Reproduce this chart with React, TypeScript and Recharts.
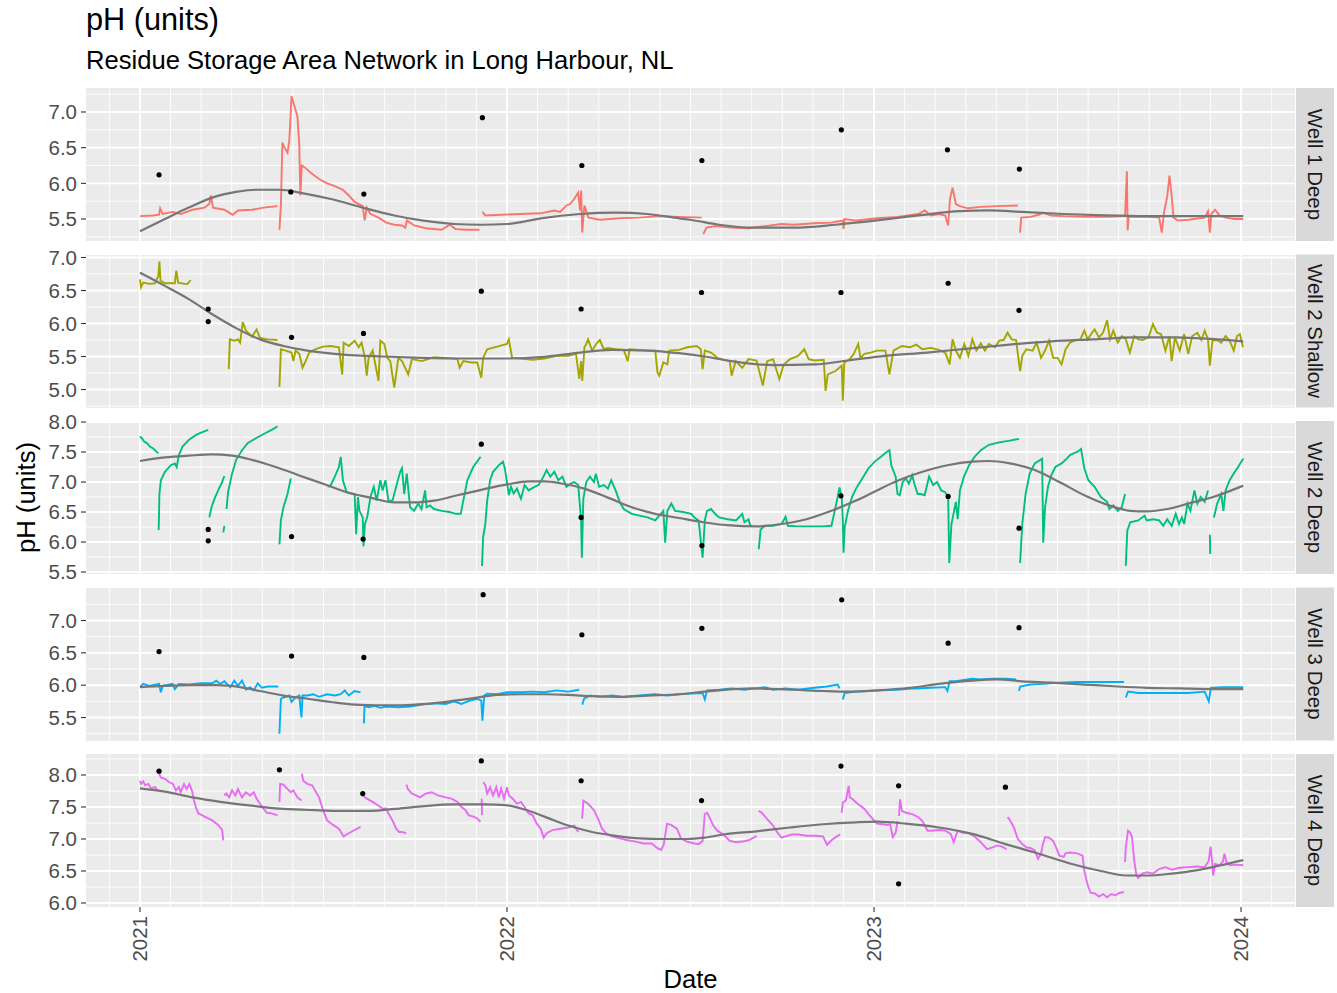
import React from "react";
import { ComposedChart, Line, Scatter, XAxis, YAxis, CartesianGrid } from "recharts";

type Pt = [number, number];

// ---- data (time as decimal year, value as pH) ----
const yearTicks = [2021, 2022, 2023, 2024];
const wellNames = ["Well 1 Deep", "Well 2 Shallow", "Well 2 Deep", "Well 3 Deep", "Well 4 Deep"];
const wellColors = ["#F8766D", "#A3A500", "#00BF7D", "#00B0F6", "#E76BF3"];

const well1Line: Pt[][] = [
  [[2021.0,5.54],[2021.036,5.55],[2021.052,5.56],[2021.055,5.65],[2021.062,5.57],[2021.089,5.6],[2021.111,5.57],[2021.143,5.63],[2021.176,5.66],[2021.189,5.71],[2021.193,5.83],[2021.199,5.66],[2021.23,5.63],[2021.253,5.56],[2021.267,5.62],[2021.305,5.63],[2021.337,5.66],[2021.375,5.68]],
  [[2021.38,5.35],[2021.384,5.69],[2021.388,6.57],[2021.394,6.5],[2021.402,6.43],[2021.407,6.6],[2021.413,7.22],[2021.421,7.08],[2021.429,6.94],[2021.434,6.55],[2021.437,5.83],[2021.441,6.25],[2021.45,6.22],[2021.467,6.14],[2021.488,6.06],[2021.51,6.0],[2021.531,5.96],[2021.553,5.91],[2021.569,5.83],[2021.585,5.74],[2021.607,5.68],[2021.612,5.48],[2021.618,5.66],[2021.628,5.57],[2021.65,5.52],[2021.671,5.45],[2021.693,5.42],[2021.714,5.41],[2021.723,5.38],[2021.727,5.48],[2021.747,5.41],[2021.779,5.37],[2021.822,5.35],[2021.844,5.42],[2021.86,5.36],[2021.887,5.35],[2021.925,5.35]],
  [[2021.933,5.6],[2021.941,5.55],[2021.984,5.56],[2022.038,5.57],[2022.092,5.58],[2022.129,5.62],[2022.145,5.6],[2022.162,5.69],[2022.172,5.71],[2022.183,5.78],[2022.194,5.87],[2022.199,5.62],[2022.202,5.9],[2022.205,5.31],[2022.211,5.69],[2022.222,5.52],[2022.253,5.49],[2022.307,5.51],[2022.361,5.52],[2022.415,5.54],[2022.469,5.53],[2022.53,5.52]],
  [[2022.535,5.29],[2022.544,5.38],[2022.567,5.4],[2022.612,5.38],[2022.657,5.37],[2022.703,5.4],[2022.748,5.43],[2022.782,5.42],[2022.838,5.44],[2022.884,5.45],[2022.915,5.48],[2022.917,5.36],[2022.92,5.5],[2022.951,5.48],[2023.008,5.51],[2023.064,5.53],[2023.121,5.57],[2023.138,5.62],[2023.155,5.55],[2023.177,5.57],[2023.194,5.55],[2023.202,5.41],[2023.207,5.78],[2023.214,5.94],[2023.223,5.71],[2023.234,5.68],[2023.257,5.65],[2023.291,5.67],[2023.336,5.68],[2023.392,5.69]],
  [[2023.398,5.31],[2023.401,5.52],[2023.426,5.53],[2023.449,5.56],[2023.46,5.59],[2023.483,5.55],[2023.517,5.54],[2023.573,5.53],[2023.63,5.53],[2023.684,5.54],[2023.689,6.17],[2023.691,5.34],[2023.694,5.53],[2023.743,5.53],[2023.777,5.52],[2023.784,5.31],[2023.79,5.59],[2023.799,5.82],[2023.805,6.11],[2023.811,5.82],[2023.816,5.52],[2023.828,5.48],[2023.856,5.49],[2023.901,5.52],[2023.91,5.61],[2023.915,5.31],[2023.919,5.57],[2023.929,5.63],[2023.941,5.55],[2023.958,5.52],[2023.981,5.5],[2024.006,5.5]],
];
const well1Smooth: Pt[] = [[2021.0,5.33],[2021.068,5.5],[2021.133,5.66],[2021.197,5.8],[2021.262,5.88],[2021.316,5.91],[2021.38,5.91],[2021.445,5.86],[2021.52,5.78],[2021.607,5.66],[2021.693,5.55],[2021.768,5.48],[2021.855,5.43],[2021.93,5.42],[2022.0,5.43],[2022.092,5.51],[2022.199,5.57],[2022.296,5.59],[2022.383,5.57],[2022.469,5.51],[2022.499,5.49],[2022.578,5.42],[2022.669,5.38],[2022.782,5.38],[2022.895,5.42],[2023.008,5.48],[2023.121,5.55],[2023.234,5.61],[2023.313,5.62],[2023.404,5.6],[2023.517,5.57],[2023.63,5.55],[2023.743,5.54],[2023.856,5.54],[2024.006,5.54]];
const well1Samples: Pt[] = [[2021.052,6.12],[2021.411,5.88],[2021.61,5.85],[2021.933,6.92],[2022.204,6.25],[2022.531,6.32],[2022.911,6.75],[2023.2,6.47],[2023.396,6.2]];

const well2sLine: Pt[][] = [
  [[2021.0,6.67],[2021.003,6.55],[2021.009,6.62],[2021.025,6.6],[2021.041,6.61],[2021.05,6.72],[2021.053,6.94],[2021.056,6.65],[2021.068,6.61],[2021.084,6.61],[2021.095,6.61],[2021.099,6.8],[2021.104,6.62],[2021.122,6.6],[2021.13,6.6],[2021.138,6.66]],
  [[2021.242,5.31],[2021.245,5.76],[2021.257,5.74],[2021.267,5.76],[2021.273,5.71],[2021.28,6.02],[2021.289,5.89],[2021.305,5.8],[2021.318,5.91],[2021.327,5.78],[2021.348,5.76],[2021.375,5.75]],
  [[2021.38,5.04],[2021.384,5.61],[2021.397,5.59],[2021.413,5.56],[2021.418,5.43],[2021.424,5.59],[2021.434,5.54],[2021.443,5.33],[2021.45,5.41],[2021.461,5.56],[2021.477,5.61],[2021.499,5.65],[2021.52,5.66],[2021.542,5.64],[2021.551,5.23],[2021.555,5.71],[2021.569,5.66],[2021.585,5.74],[2021.596,5.64],[2021.604,5.71],[2021.613,5.48],[2021.618,5.21],[2021.623,5.48],[2021.634,5.59],[2021.65,5.13],[2021.655,5.74],[2021.666,5.69],[2021.674,5.48],[2021.682,5.43],[2021.693,5.03],[2021.704,5.48],[2021.714,5.43],[2021.731,5.23],[2021.741,5.46],[2021.768,5.43],[2021.801,5.49],[2021.833,5.48],[2021.865,5.46],[2021.871,5.33],[2021.881,5.43],[2021.903,5.41],[2021.919,5.41],[2021.93,5.18],[2021.935,5.48],[2021.946,5.61],[2021.973,5.65],[2022.0,5.69],[2022.005,5.76],[2022.014,5.48],[2022.038,5.47],[2022.07,5.45],[2022.102,5.47],[2022.135,5.51],[2022.167,5.51],[2022.188,5.54],[2022.197,5.16],[2022.202,5.43],[2022.205,5.13],[2022.211,5.64],[2022.216,5.69],[2022.221,5.76],[2022.232,5.59],[2022.243,5.69],[2022.253,5.75],[2022.264,5.61],[2022.275,5.63],[2022.296,5.61],[2022.318,5.6],[2022.329,5.43],[2022.334,5.61],[2022.361,5.6],[2022.383,5.59],[2022.404,5.59],[2022.41,5.26],[2022.415,5.21],[2022.426,5.41],[2022.437,5.38],[2022.442,5.59],[2022.469,5.6],[2022.491,5.64],[2022.517,5.66],[2022.528,5.61],[2022.533,5.31],[2022.539,5.59],[2022.556,5.56],[2022.573,5.48],[2022.584,5.46],[2022.607,5.43],[2022.612,5.21],[2022.623,5.43],[2022.641,5.33],[2022.658,5.46],[2022.68,5.44],[2022.697,5.06],[2022.709,5.43],[2022.725,5.46],[2022.742,5.16],[2022.754,5.38],[2022.771,5.46],[2022.793,5.51],[2022.81,5.61],[2022.822,5.46],[2022.838,5.44],[2022.863,5.45],[2022.868,4.98],[2022.874,5.23],[2022.895,5.28],[2022.912,5.36],[2022.915,4.83],[2022.919,5.41],[2022.934,5.46],[2022.945,5.54],[2022.957,5.69],[2022.963,5.48],[2022.974,5.54],[2022.991,5.56],[2023.008,5.59],[2023.031,5.59],[2023.042,5.23],[2023.053,5.59],[2023.076,5.66],[2023.098,5.64],[2023.115,5.68],[2023.132,5.61],[2023.155,5.63],[2023.177,5.6],[2023.194,5.56],[2023.206,5.38],[2023.214,5.76],[2023.223,5.59],[2023.234,5.48],[2023.246,5.69],[2023.257,5.51],[2023.268,5.76],[2023.279,5.59],[2023.291,5.7],[2023.302,5.59],[2023.313,5.69],[2023.33,5.64],[2023.341,5.74],[2023.353,5.75],[2023.364,5.86],[2023.375,5.76],[2023.387,5.75],[2023.398,5.28],[2023.404,5.51],[2023.415,5.61],[2023.432,5.59],[2023.443,5.71],[2023.455,5.48],[2023.466,5.59],[2023.477,5.74],[2023.488,5.48],[2023.5,5.48],[2023.511,5.38],[2023.522,5.61],[2023.534,5.71],[2023.545,5.74],[2023.562,5.76],[2023.573,5.89],[2023.582,5.76],[2023.594,5.86],[2023.601,5.91],[2023.613,5.79],[2023.624,5.86],[2023.635,6.05],[2023.643,5.76],[2023.652,5.89],[2023.664,5.71],[2023.675,5.81],[2023.686,5.76],[2023.697,5.56],[2023.709,5.81],[2023.72,5.76],[2023.731,5.75],[2023.748,5.79],[2023.76,5.99],[2023.771,5.86],[2023.782,5.84],[2023.794,5.59],[2023.805,5.81],[2023.811,5.43],[2023.82,5.79],[2023.833,5.59],[2023.845,5.84],[2023.856,5.54],[2023.867,5.81],[2023.881,5.86],[2023.892,5.75],[2023.901,5.89],[2023.91,5.76],[2023.915,5.36],[2023.922,5.74],[2023.935,5.75],[2023.946,5.71],[2023.958,5.81],[2023.969,5.74],[2023.98,5.59],[2023.989,5.81],[2023.997,5.84],[2024.005,5.64]],
];
const well2sSmooth: Pt[] = [[2021.0,6.77],[2021.068,6.57],[2021.133,6.37],[2021.197,6.14],[2021.262,5.93],[2021.327,5.76],[2021.391,5.66],[2021.456,5.59],[2021.553,5.53],[2021.661,5.5],[2021.768,5.48],[2021.876,5.47],[2022.0,5.47],[2022.092,5.49],[2022.199,5.56],[2022.285,5.6],[2022.383,5.59],[2022.469,5.55],[2022.538,5.5],[2022.612,5.43],[2022.725,5.37],[2022.838,5.38],[2022.929,5.44],[2023.031,5.51],[2023.144,5.56],[2023.257,5.62],[2023.37,5.68],[2023.483,5.73],[2023.596,5.76],[2023.709,5.79],[2023.822,5.79],[2023.935,5.76],[2024.006,5.73]];
const well2sSamples: Pt[] = [[2021.186,6.22],[2021.186,6.03],[2021.413,5.79],[2021.609,5.85],[2021.93,6.49],[2022.202,6.22],[2022.53,6.47],[2022.91,6.47],[2023.202,6.61],[2023.395,6.2]];

const well2dLine: Pt[][] = [
  [[2021.0,7.76],[2021.005,7.73],[2021.012,7.67],[2021.019,7.65],[2021.027,7.59],[2021.036,7.56],[2021.044,7.51],[2021.05,7.48]],
  [[2021.051,6.2],[2021.053,6.8],[2021.057,7.03],[2021.068,7.17],[2021.084,7.28],[2021.095,7.31],[2021.1,7.25],[2021.106,7.45],[2021.116,7.59],[2021.133,7.7],[2021.154,7.79],[2021.17,7.83],[2021.186,7.87]],
  [[2021.189,6.41],[2021.195,6.58],[2021.203,6.72],[2021.213,6.86],[2021.224,7.0],[2021.23,7.1]],
  [[2021.227,6.16],[2021.23,6.27]],
  [[2021.236,6.55],[2021.24,6.83],[2021.251,7.14],[2021.262,7.37],[2021.278,7.53],[2021.294,7.65],[2021.316,7.73],[2021.337,7.8],[2021.359,7.87],[2021.375,7.93]],
  [[2021.38,5.96],[2021.384,6.36],[2021.391,6.58],[2021.402,6.8],[2021.411,7.06]],
  [[2021.512,6.92],[2021.52,6.95],[2021.531,7.09],[2021.542,7.25],[2021.547,7.42],[2021.553,7.03],[2021.563,6.83],[2021.585,6.8],[2021.589,6.13],[2021.594,6.75],[2021.598,6.52],[2021.607,6.41],[2021.609,5.93],[2021.613,6.3],[2021.619,6.41],[2021.628,6.75],[2021.637,6.92],[2021.645,6.69],[2021.655,7.03],[2021.661,6.86],[2021.669,7.03],[2021.677,6.69],[2021.688,6.69],[2021.698,6.92],[2021.709,7.17],[2021.714,7.23],[2021.72,6.8],[2021.727,7.14],[2021.736,6.58],[2021.747,6.52],[2021.758,6.64],[2021.767,6.55],[2021.777,6.86],[2021.781,6.58],[2021.79,6.61],[2021.801,6.55],[2021.822,6.52],[2021.844,6.5],[2021.86,6.47],[2021.874,6.47],[2021.881,6.69],[2021.892,7.03],[2021.908,7.25],[2021.928,7.42]],
  [[2021.932,5.6],[2021.935,6.08],[2021.941,6.3],[2021.946,6.69],[2021.954,7.03],[2021.962,7.17],[2021.978,7.28],[2021.989,7.34],[2021.994,7.23],[2022.0,7.0],[2022.005,6.78],[2022.011,6.92],[2022.018,6.81],[2022.027,6.89],[2022.038,6.72],[2022.048,6.95],[2022.059,6.86],[2022.075,6.92],[2022.086,6.95],[2022.097,7.06],[2022.108,7.2],[2022.118,7.09],[2022.129,7.17],[2022.14,7.03],[2022.151,7.09],[2022.162,6.92],[2022.172,6.97],[2022.183,7.0],[2022.194,6.95],[2022.202,6.36],[2022.204,5.74],[2022.208,6.72],[2022.216,7.0],[2022.226,7.09],[2022.237,7.0],[2022.242,7.14],[2022.251,6.92],[2022.264,6.95],[2022.275,6.89],[2022.284,7.03],[2022.296,6.86],[2022.307,6.67],[2022.318,6.55],[2022.34,6.47],[2022.361,6.44],[2022.383,6.41],[2022.404,6.36],[2022.415,6.44],[2022.426,6.52],[2022.431,5.99],[2022.437,6.52],[2022.448,6.64],[2022.458,6.52],[2022.48,6.5],[2022.502,6.47],[2022.511,6.41],[2022.522,6.36],[2022.533,5.74],[2022.539,6.36],[2022.545,6.52],[2022.556,6.55],[2022.567,6.47],[2022.578,6.41],[2022.601,6.38],[2022.624,6.36],[2022.641,6.47],[2022.647,6.33],[2022.658,6.38],[2022.663,6.27],[2022.669,6.27]],
  [[2022.686,5.88],[2022.691,6.21],[2022.703,6.27],[2022.725,6.27],[2022.748,6.3],[2022.759,6.42],[2022.765,6.27],[2022.793,6.26],[2022.827,6.26],[2022.861,6.26],[2022.884,6.27],[2022.893,6.52],[2022.901,6.75],[2022.906,6.91],[2022.912,6.75],[2022.915,6.36],[2022.917,5.82],[2022.92,6.24],[2022.929,6.52],[2022.94,6.75],[2022.951,6.89],[2022.968,7.06],[2022.985,7.23],[2023.002,7.34],[2023.019,7.42],[2023.036,7.51],[2023.042,7.53],[2023.047,7.28],[2023.059,7.09],[2023.064,6.8],[2023.07,6.78],[2023.078,7.0],[2023.087,7.06],[2023.095,6.97],[2023.104,7.11],[2023.11,6.97],[2023.119,6.8],[2023.127,6.8],[2023.138,6.78],[2023.15,7.09],[2023.161,6.95],[2023.172,7.0],[2023.183,6.86],[2023.194,6.83],[2023.202,6.75],[2023.205,5.65],[2023.211,6.3],[2023.223,6.67],[2023.228,6.38],[2023.234,6.86],[2023.245,7.09],[2023.259,7.28],[2023.274,7.42],[2023.291,7.53],[2023.313,7.62],[2023.341,7.66],[2023.37,7.69],[2023.395,7.72]],
  [[2023.398,5.65],[2023.404,6.3],[2023.413,6.8],[2023.424,7.14],[2023.438,7.31],[2023.458,7.39],[2023.461,5.99],[2023.466,6.58],[2023.474,6.92],[2023.483,7.11],[2023.494,7.25],[2023.511,7.31],[2023.522,7.37],[2023.534,7.45],[2023.545,7.48],[2023.556,7.51],[2023.564,7.55],[2023.573,7.23],[2023.584,7.03],[2023.601,6.92],[2023.618,6.75],[2023.635,6.67],[2023.641,6.55],[2023.652,6.61],[2023.664,6.52],[2023.675,6.58],[2023.684,6.8]],
  [[2023.686,5.6],[2023.69,6.19],[2023.698,6.33],[2023.72,6.36],[2023.737,6.44],[2023.743,6.36],[2023.76,6.38],[2023.777,6.36],[2023.788,6.27],[2023.799,6.38],[2023.811,6.27],[2023.822,6.47],[2023.831,6.3],[2023.839,6.41],[2023.845,6.3],[2023.854,6.64],[2023.862,6.52],[2023.873,6.86],[2023.881,6.64],[2023.89,6.75],[2023.901,6.67],[2023.91,6.86]],
  [[2023.915,6.12],[2023.916,5.8]],
  [[2023.926,6.41],[2023.935,6.64],[2023.946,6.8],[2023.952,6.52],[2023.958,6.86],[2023.969,7.03],[2023.98,7.14],[2023.992,7.25],[2024.006,7.39]],
];
const well2dSmooth: Pt[] = [[2021.0,7.35],[2021.068,7.41],[2021.133,7.44],[2021.197,7.46],[2021.251,7.44],[2021.305,7.37],[2021.37,7.25],[2021.434,7.11],[2021.499,6.97],[2021.563,6.83],[2021.628,6.74],[2021.693,6.66],[2021.747,6.66],[2021.801,6.69],[2021.865,6.78],[2021.93,6.87],[2022.0,6.96],[2022.059,7.01],[2022.102,7.01],[2022.145,6.98],[2022.21,6.89],[2022.275,6.74],[2022.34,6.58],[2022.404,6.47],[2022.469,6.4],[2022.535,6.33],[2022.6,6.28],[2022.68,6.26],[2022.748,6.3],[2022.816,6.38],[2022.884,6.52],[2022.951,6.69],[2023.008,6.86],[2023.064,7.02],[2023.132,7.17],[2023.2,7.28],[2023.268,7.34],[2023.313,7.35],[2023.37,7.31],[2023.438,7.2],[2023.505,7.0],[2023.573,6.78],[2023.641,6.61],[2023.698,6.52],[2023.743,6.51],[2023.799,6.55],[2023.856,6.64],[2023.924,6.75],[2024.006,6.94]];
const well2dSamples: Pt[] = [[2021.186,6.21],[2021.186,6.02],[2021.413,6.09],[2021.608,6.05],[2021.93,7.63],[2022.202,6.41],[2022.531,5.94],[2022.91,6.77],[2023.202,6.76],[2023.395,6.23]];

const well3Line: Pt[][] = [
  [[2021.0,5.97],[2021.009,6.02],[2021.025,5.99],[2021.052,6.02],[2021.057,5.89],[2021.062,5.99],[2021.089,6.02],[2021.095,5.94],[2021.106,6.02],[2021.133,6.01],[2021.165,6.03],[2021.197,6.03],[2021.208,6.07],[2021.219,6.02],[2021.23,6.06],[2021.246,5.97],[2021.257,6.07],[2021.267,5.99],[2021.278,6.07],[2021.289,5.93],[2021.3,5.97],[2021.31,5.92],[2021.321,6.03],[2021.332,5.96],[2021.348,5.98],[2021.377,5.98]],
  [[2021.38,5.25],[2021.384,5.79],[2021.391,5.81],[2021.407,5.84],[2021.413,5.74],[2021.424,5.81],[2021.434,5.84],[2021.44,5.5],[2021.443,5.84],[2021.456,5.84],[2021.472,5.86],[2021.488,5.82],[2021.51,5.86],[2021.531,5.84],[2021.547,5.86],[2021.558,5.92],[2021.569,5.84],[2021.585,5.91],[2021.601,5.89]],
  [[2021.61,5.41],[2021.612,5.68],[2021.623,5.66],[2021.639,5.68],[2021.655,5.65],[2021.671,5.67],[2021.704,5.66],[2021.736,5.67],[2021.768,5.7],[2021.801,5.72],[2021.833,5.71],[2021.855,5.75],[2021.876,5.71],[2021.898,5.76],[2021.919,5.79],[2021.93,5.76],[2021.933,5.45],[2021.938,5.84],[2021.946,5.87],[2021.973,5.86],[2022.0,5.89],[2022.038,5.89],[2022.07,5.9],[2022.102,5.89],[2022.135,5.92],[2022.167,5.9],[2022.197,5.93]],
  [[2022.205,5.7],[2022.21,5.79],[2022.226,5.84],[2022.253,5.82],[2022.286,5.84],[2022.318,5.82],[2022.361,5.84],[2022.404,5.86],[2022.437,5.84],[2022.469,5.86],[2022.501,5.87],[2022.533,5.88],[2022.539,5.78],[2022.545,5.92],[2022.578,5.93],[2022.612,5.95],[2022.646,5.93],[2022.68,5.95],[2022.703,5.97],[2022.725,5.93],[2022.759,5.95],[2022.793,5.93],[2022.838,5.96],[2022.872,5.98],[2022.901,6.01],[2022.906,5.95]],
  [[2022.915,5.78],[2022.92,5.88],[2022.951,5.9],[2022.985,5.91],[2023.019,5.92],[2023.064,5.93],[2023.11,5.95],[2023.155,5.96],[2023.194,5.97],[2023.2,5.91],[2023.206,6.06],[2023.223,6.06],[2023.245,6.08],[2023.268,6.1],[2023.291,6.09],[2023.324,6.1],[2023.358,6.1],[2023.387,6.09]],
  [[2023.395,5.91],[2023.398,5.98],[2023.426,6.01],[2023.46,6.02],[2023.505,6.04],[2023.551,6.05],[2023.596,6.05],[2023.641,6.05],[2023.681,6.05]],
  [[2023.686,5.81],[2023.692,5.9],[2023.72,5.88],[2023.765,5.88],[2023.811,5.88],[2023.856,5.88],[2023.901,5.9],[2023.912,5.75],[2023.918,5.96],[2023.946,5.97],[2023.98,5.97],[2024.006,5.97]],
];
const well3Smooth: Pt[] = [[2021.0,5.97],[2021.068,5.99],[2021.133,6.0],[2021.208,6.0],[2021.273,5.97],[2021.327,5.91],[2021.391,5.84],[2021.456,5.79],[2021.52,5.74],[2021.585,5.7],[2021.65,5.69],[2021.714,5.69],[2021.779,5.71],[2021.844,5.75],[2021.909,5.8],[2021.973,5.85],[2022.038,5.86],[2022.102,5.86],[2022.167,5.85],[2022.232,5.83],[2022.307,5.82],[2022.383,5.84],[2022.469,5.86],[2022.538,5.9],[2022.578,5.92],[2022.669,5.95],[2022.782,5.93],[2022.861,5.91],[2022.929,5.9],[2023.008,5.92],[2023.098,5.96],[2023.177,6.02],[2023.268,6.07],[2023.336,6.09],[2023.404,6.06],[2023.483,6.04],[2023.573,6.01],[2023.664,5.98],[2023.743,5.96],[2023.833,5.95],[2023.924,5.94],[2024.006,5.94]];
const well3Samples: Pt[] = [[2021.052,6.52],[2021.413,6.45],[2021.61,6.43],[2021.935,7.4],[2022.204,6.78],[2022.531,6.88],[2022.912,7.32],[2023.202,6.65],[2023.395,6.89]];

const well4Line: Pt[][] = [
  [[2021.0,7.91],[2021.003,7.86],[2021.009,7.9],[2021.014,7.84],[2021.023,7.86],[2021.03,7.79],[2021.041,7.81],[2021.048,7.76]],
  [[2021.052,8.02],[2021.057,7.96],[2021.068,7.94],[2021.079,7.89],[2021.09,7.86],[2021.098,7.76],[2021.106,7.81],[2021.111,7.73],[2021.12,7.86],[2021.127,7.78],[2021.135,7.86],[2021.143,7.73],[2021.145,7.65],[2021.152,7.5],[2021.159,7.4],[2021.176,7.35],[2021.197,7.29],[2021.213,7.22],[2021.224,7.14],[2021.227,6.98]],
  [[2021.23,7.68],[2021.235,7.71],[2021.243,7.65],[2021.251,7.76],[2021.26,7.68],[2021.267,7.78],[2021.278,7.65],[2021.289,7.73],[2021.3,7.68],[2021.31,7.73],[2021.318,7.63],[2021.327,7.55],[2021.337,7.47],[2021.346,7.41],[2021.359,7.4],[2021.375,7.37]],
  [[2021.38,7.58],[2021.382,7.86],[2021.391,7.85],[2021.402,7.78],[2021.411,7.73],[2021.418,7.76],[2021.429,7.65],[2021.44,7.6]],
  [[2021.441,8.02],[2021.445,7.91],[2021.456,7.86],[2021.469,7.84],[2021.477,7.76],[2021.488,7.65],[2021.499,7.45],[2021.51,7.29],[2021.526,7.22],[2021.542,7.16],[2021.555,7.04],[2021.569,7.09],[2021.585,7.14],[2021.601,7.19]],
  [[2021.607,7.68],[2021.618,7.63],[2021.634,7.58],[2021.65,7.52],[2021.663,7.47],[2021.671,7.48],[2021.677,7.4],[2021.688,7.29],[2021.698,7.16],[2021.706,7.11],[2021.714,7.11],[2021.725,7.09]],
  [[2021.726,7.85],[2021.73,7.78],[2021.741,7.71],[2021.752,7.68],[2021.763,7.65],[2021.779,7.71],[2021.795,7.73],[2021.812,7.68],[2021.833,7.65],[2021.849,7.63],[2021.865,7.58],[2021.876,7.5],[2021.887,7.45],[2021.896,7.37],[2021.909,7.35],[2021.919,7.32],[2021.928,7.27]],
  [[2021.931,7.63],[2021.932,7.37]],
  [[2021.935,7.89],[2021.941,7.84],[2021.946,7.71],[2021.954,7.81],[2021.962,7.68],[2021.971,7.81],[2021.978,7.65],[2021.984,7.79],[2021.992,7.63],[2022.0,7.81],[2022.005,7.68],[2022.016,7.63],[2022.027,7.55],[2022.038,7.58],[2022.048,7.5],[2022.059,7.4],[2022.07,7.37],[2022.081,7.24],[2022.092,7.16],[2022.1,7.02],[2022.108,7.09],[2022.124,7.14],[2022.145,7.16],[2022.167,7.18],[2022.183,7.21],[2022.194,7.11]],
  [[2022.205,7.32],[2022.208,7.6],[2022.221,7.55],[2022.237,7.45],[2022.248,7.32],[2022.259,7.16],[2022.27,7.09],[2022.286,7.04],[2022.307,7.01],[2022.329,6.98],[2022.351,6.96],[2022.372,6.93],[2022.394,6.93],[2022.409,6.86],[2022.42,6.83],[2022.427,6.91],[2022.436,7.24],[2022.447,7.22],[2022.463,7.16],[2022.474,7.01],[2022.49,6.96],[2022.512,6.93],[2022.522,6.92],[2022.533,6.97],[2022.539,7.39],[2022.545,7.41],[2022.55,7.36],[2022.562,7.21],[2022.573,7.13],[2022.59,7.07],[2022.607,6.97],[2022.624,6.95],[2022.641,6.96],[2022.658,6.98],[2022.675,7.03],[2022.68,7.05]],
  [[2022.686,7.44],[2022.694,7.41],[2022.709,7.31],[2022.725,7.21],[2022.737,7.1],[2022.748,7.02],[2022.759,7.04],[2022.776,7.07],[2022.793,7.07],[2022.816,7.05],[2022.838,7.05],[2022.861,7.04],[2022.872,6.91],[2022.884,6.98],[2022.901,7.05],[2022.908,7.07]],
  [[2022.912,7.41],[2022.915,7.57],[2022.923,7.6],[2022.931,7.83],[2022.934,7.65],[2022.942,7.62],[2022.951,7.57],[2022.963,7.52],[2022.974,7.47],[2022.985,7.39],[2022.997,7.31],[2023.008,7.24],[2023.025,7.23],[2023.036,7.22],[2023.044,7.23],[2023.051,7.03],[2023.059,7.1],[2023.064,7.28]],
  [[2023.068,7.36],[2023.071,7.62],[2023.076,7.44],[2023.087,7.41],[2023.104,7.39],[2023.121,7.34],[2023.132,7.28],[2023.146,7.13],[2023.155,7.13],[2023.177,7.14],[2023.194,7.13],[2023.209,7.08],[2023.217,6.95],[2023.228,7.13],[2023.24,7.1],[2023.257,7.09],[2023.274,7.04],[2023.291,6.95],[2023.308,6.84],[2023.323,6.87],[2023.336,6.9],[2023.349,6.88],[2023.361,6.84]],
  [[2023.364,7.34],[2023.37,7.3],[2023.381,7.18],[2023.392,7.0],[2023.404,6.92],[2023.415,6.87],[2023.426,6.86],[2023.438,6.82],[2023.447,6.69],[2023.455,6.77],[2023.46,6.92],[2023.466,7.03],[2023.477,7.02],[2023.488,6.97],[2023.496,6.87],[2023.505,6.74],[2023.517,6.72],[2023.522,6.78],[2023.534,6.79],[2023.551,6.78],[2023.568,6.74],[2023.573,6.51],[2023.579,6.35],[2023.584,6.25],[2023.59,6.16],[2023.601,6.15],[2023.613,6.1],[2023.624,6.14],[2023.635,6.09],[2023.647,6.14],[2023.658,6.12],[2023.669,6.16],[2023.681,6.17]],
  [[2023.684,6.64],[2023.686,6.87],[2023.692,7.13],[2023.698,7.1],[2023.703,7.03],[2023.709,6.66],[2023.715,6.43],[2023.72,6.39],[2023.731,6.46],[2023.743,6.48],[2023.76,6.46],[2023.777,6.53],[2023.794,6.56],[2023.811,6.52],[2023.833,6.55],[2023.856,6.56],[2023.878,6.57],[2023.901,6.56],[2023.912,6.66],[2023.917,6.88],[2023.921,6.66],[2023.924,6.43],[2023.929,6.61],[2023.941,6.59],[2023.95,6.64],[2023.955,6.77],[2023.96,6.64],[2023.969,6.59],[2023.986,6.6],[2024.006,6.59]],
];
const well4Smooth: Pt[] = [[2021.0,7.79],[2021.068,7.74],[2021.143,7.65],[2021.219,7.58],[2021.305,7.52],[2021.391,7.47],[2021.477,7.45],[2021.553,7.44],[2021.628,7.44],[2021.693,7.47],[2021.768,7.51],[2021.855,7.54],[2021.941,7.54],[2021.995,7.53],[2022.048,7.46],[2022.102,7.35],[2022.167,7.21],[2022.232,7.11],[2022.296,7.05],[2022.361,7.01],[2022.426,7.0],[2022.491,7.0],[2022.538,7.02],[2022.59,7.07],[2022.68,7.12],[2022.771,7.18],[2022.861,7.23],[2022.951,7.26],[2023.008,7.27],[2023.087,7.24],[2023.177,7.18],[2023.268,7.08],[2023.358,6.92],[2023.449,6.77],[2023.539,6.61],[2023.618,6.5],[2023.686,6.43],[2023.743,6.43],[2023.811,6.46],[2023.878,6.51],[2023.946,6.59],[2024.006,6.67]];
const well4Samples: Pt[] = [[2021.052,8.06],[2021.38,8.08],[2021.607,7.71],[2021.93,8.22],[2022.202,7.91],[2022.53,7.6],[2022.91,8.14],[2023.067,7.83],[2023.067,6.3],[2023.358,7.81]];

const yTicks: number[][] = [
  [5.5, 6.0, 6.5, 7.0],
  [5.0, 5.5, 6.0, 6.5, 7.0],
  [5.5, 6.0, 6.5, 7.0, 7.5, 8.0],
  [5.5, 6.0, 6.5, 7.0],
  [6.0, 6.5, 7.0, 7.5, 8.0],
];
const yDomains: [number, number][] = [
  [5.192, 7.336],
  [4.72, 7.038],
  [5.467, 8.017],
  [5.137, 7.503],
  [5.9375, 8.328],
];

// ---- layout ----
const FONT = '"Liberation Sans", Arial, Helvetica, sans-serif';
const X_DOMAIN: [number, number] = [2020.853, 2024.147];
const PLOT_LEFT = 86;
const PLOT_RIGHT = 1295;
const PANEL_TOP = 88;
const PANEL_H = 153;
const PANEL_STEP = 166.5;
const AXIS_H = 62;
const PAD = 14; // room so edge tick labels are not clipped

const toRows = (segs: Pt[][]) => {
  const out: { t: number; v: number | null }[] = [];
  segs.forEach((seg, i) => {
    if (i > 0) out.push({ t: seg[0][0], v: null });
    seg.forEach(([t, v]) => out.push({ t, v }));
  });
  return out;
};
const toPts = (pts: Pt[]) => pts.map(([t, v]) => ({ t, v }));

const minorX: number[] = [];
for (let y = 2020; y <= 2024; y++) {
  for (let m = 1; m < 12; m++) {
    const t = y + m / 12;
    if (t > X_DOMAIN[0] && t < X_DOMAIN[1]) minorX.push(t);
  }
}
const minorYFor = (ticks: number[], dom: [number, number]) => {
  const out: number[] = [];
  const step = ticks[1] - ticks[0];
  for (let v = ticks[0] - step / 2; v <= ticks[ticks.length - 1] + step; v += step) {
    if (v > dom[0] && v < dom[1]) out.push(v);
  }
  return out;
};

const panels = [
  { line: well1Line, smooth: well1Smooth, samples: well1Samples },
  { line: well2sLine, smooth: well2sSmooth, samples: well2sSamples },
  { line: well2dLine, smooth: well2dSmooth, samples: well2dSamples },
  { line: well3Line, smooth: well3Smooth, samples: well3Samples },
  { line: well4Line, smooth: well4Smooth, samples: well4Samples },
].map((p, i) => ({
  ...p,
  name: wellNames[i],
  color: wellColors[i],
  ticks: yTicks[i],
  domain: yDomains[i],
}));

const YearTick = (props: any) => {
  const { x, y, payload } = props;
  return (
    <text
      transform={`translate(${x},${y}) rotate(-90)`}
      textAnchor="end"
      dy="0.36em"
      fontSize={20.5}
      fill="#4d4d4d"
      fontFamily={FONT}
    >
      {payload.value}
    </text>
  );
};

const Dot = (props: any) => <circle cx={props.cx} cy={props.cy} r={2.6} fill="#000" />;

function Panel({ idx }: { idx: number }) {
  const p = panels[idx];
  const last = idx === panels.length - 1;
  return (
    <ComposedChart
      width={1337}
      height={PANEL_H + PAD * 2 + (last ? AXIS_H : 0)}
      margin={{ top: PAD, right: 1337 - PLOT_RIGHT, bottom: PAD, left: 0 }}
    >
      <CartesianGrid
        fill="#ebebeb"
        stroke="#ffffff"
        strokeWidth={0.9}
        horizontalValues={minorYFor(p.ticks, p.domain)}
        verticalValues={minorX}
      />
      <CartesianGrid
        fill="none"
        stroke="#ffffff"
        strokeWidth={1.9}
        horizontalValues={p.ticks}
        verticalValues={yearTicks}
      />
      <XAxis
        dataKey="t"
        type="number"
        domain={X_DOMAIN}
        allowDataOverflow
        ticks={yearTicks}
        interval={0}
        hide={!last}
        height={AXIS_H}
        axisLine={false}
        tickLine={{ stroke: "#333333", strokeWidth: 1.1 }}
        tickSize={5}
        tickMargin={4}
        tick={<YearTick />}
      />
      <YAxis
        type="number"
        domain={p.domain}
        allowDataOverflow
        ticks={p.ticks}
        interval={0}
        width={PLOT_LEFT}
        axisLine={false}
        tickLine={{ stroke: "#333333", strokeWidth: 1.1 }}
        tickSize={5}
        tickMargin={4}
        tickFormatter={(v: number) => v.toFixed(1)}
        tick={{ fill: "#4d4d4d", fontSize: 20.5, fontFamily: FONT }}
      />
      <Line
        data={toRows(p.line)}
        dataKey="v"
        type="linear"
        stroke={p.color}
        strokeWidth={1.9}
        dot={false}
        activeDot={false}
        connectNulls={false}
        isAnimationActive={false}
      />
      <Line
        data={toPts(p.smooth)}
        dataKey="v"
        type="monotone"
        stroke="#767676"
        strokeWidth={2.2}
        dot={false}
        activeDot={false}
        isAnimationActive={false}
      />
      <Scatter data={toPts(p.samples)} dataKey="v" shape={<Dot />} isAnimationActive={false} />
    </ComposedChart>
  );
}

export default function App() {
  const panelTop = (i: number) => PANEL_TOP + i * PANEL_STEP;
  const plotMidY = (PANEL_TOP + panelTop(4) + PANEL_H) / 2;
  return (
    <div
      style={{
        position: "absolute",
        left: 0,
        top: 0,
        width: 1337,
        height: 993,
        background: "#ffffff",
        fontFamily: FONT,
        overflow: "hidden",
      }}
    >
      <svg width={1337} height={993} style={{ position: "absolute", left: 0, top: 0 }}>
        <text x={PLOT_LEFT} y={30} fontSize={30.7} fill="#000">
          pH (units)
        </text>
        <text x={PLOT_LEFT} y={69} fontSize={25.6} fill="#000">
          Residue Storage Area Network in Long Harbour, NL
        </text>
        <text transform={`translate(35,${plotMidY}) rotate(-90)`} textAnchor="middle" fontSize={25.6} fill="#000">
          pH (units)
        </text>
        <text x={(PLOT_LEFT + PLOT_RIGHT) / 2} y={988} textAnchor="middle" fontSize={25.6} fill="#000">
          Date
        </text>
        {panels.map((p, i) => (
          <g key={p.name}>
            <rect x={PLOT_RIGHT + 1} y={panelTop(i)} width={38} height={PANEL_H} fill="#d9d9d9" />
            <text
              transform={`translate(${PLOT_RIGHT + 20},${panelTop(i) + PANEL_H / 2}) rotate(90)`}
              textAnchor="middle"
              dy="0.36em"
              fontSize={20.5}
              fill="#1a1a1a"
            >
              {p.name}
            </text>
          </g>
        ))}
      </svg>
      {panels.map((p, i) => (
        <div key={p.name} style={{ position: "absolute", left: 0, top: panelTop(i) - PAD }}>
          <Panel idx={i} />
        </div>
      ))}
    </div>
  );
}
